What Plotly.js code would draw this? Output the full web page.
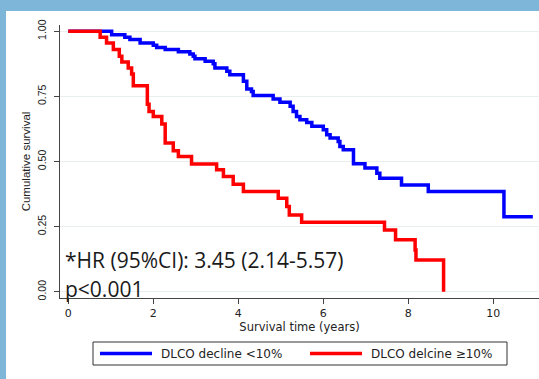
<!DOCTYPE html>
<html>
<head>
<meta charset="utf-8">
<script src="https://cdn.plot.ly/plotly-3.0.1.min.js"></script>
<style>
html,body{margin:0;padding:0;background:#7eb6d9;width:539px;height:379px;overflow:hidden;}
#chart{position:absolute;left:6px;top:11px;width:533px;height:368px;background:#fff;}
</style>
</head>
<body>
<div id="chart"></div>
<script>
// Series: Kaplan-Meier steps (time in years, cumulative survival)
var seriesNames = ["DLCO decline <10%", "DLCO delcine \u226510%"];
var blueT = [0, 1.02, 1.33, 1.45, 1.69, 2.00, 2.08, 2.28, 2.59, 2.86, 2.94, 2.98, 3.22, 3.41, 3.45, 3.73, 3.80,
             4.12, 4.20, 4.31, 4.35, 4.82, 4.98, 5.22, 5.29, 5.37, 5.45, 5.61, 5.73, 6.00, 6.08, 6.16, 6.35, 6.39,
             6.47, 6.71, 6.98, 7.26, 7.33, 7.84, 8.47, 10.25, 10.93];
var blueS = [1.000, 0.987, 0.977, 0.968, 0.955, 0.946, 0.938, 0.930, 0.921, 0.913, 0.904, 0.894, 0.885, 0.875, 0.859, 0.846, 0.833,
             0.808, 0.778, 0.769, 0.753, 0.740, 0.727, 0.712, 0.692, 0.673, 0.660, 0.650, 0.635, 0.622, 0.603, 0.590, 0.577, 0.558,
             0.545, 0.491, 0.475, 0.455, 0.436, 0.410, 0.385, 0.288, 0.288];
var redT = [0, 0.75, 0.90, 1.06, 1.20, 1.26, 1.41, 1.49, 1.53, 1.86, 1.90, 2.00, 2.20, 2.28, 2.47, 2.59, 2.90,
            3.49, 3.65, 3.88, 4.12, 4.94, 5.14, 5.20, 5.49, 7.44, 7.70, 8.16, 8.18, 8.83];
var redS = [1.000, 0.977, 0.955, 0.930, 0.904, 0.882, 0.859, 0.836, 0.791, 0.720, 0.692, 0.673, 0.644, 0.571, 0.541, 0.519, 0.490,
            0.468, 0.442, 0.413, 0.385, 0.359, 0.327, 0.295, 0.267, 0.237, 0.200, 0.160, 0.122, 0.000];
var xTicks = [0, 2, 4, 6, 8, 10];
var yTicks = [0, 0.25, 0.5, 0.75, 1];
var annText1 = "*HR (95%CI): 3.45 (2.14-5.57)";
var annText2 = "p<0.001";

var W = 533, H = 368, ML = 54, MR = 0, MT = 14, MB = 81;
var PW = W - ML - MR, PH = H - MT - MB;
// convert absolute page pixel to paper coordinates (div offset 6,11)
function pX(ax) { return (ax - 6 - ML) / PW; }
function pY(ay) { return 1 - (ay - 11 - MT) / PH; }

var blueC = "#0000ff", redC = "#ff0000";
var stataFont = "DejaVu Sans, Arial, sans-serif";

var traces = [
  {x: blueT, y: blueS, type: "scatter", mode: "lines", line: {shape: "hv", color: blueC, width: 3.5}, name: seriesNames[0], showlegend: false, hoverinfo: "skip"},
  {x: redT, y: redS, type: "scatter", mode: "lines", line: {shape: "hv", color: redC, width: 3.5}, name: seriesNames[1], showlegend: false, hoverinfo: "skip"}
];

var shapes = [
  {type: "rect", xref: "paper", yref: "paper", x0: pX(93), x1: pX(507), y0: pY(342), y1: pY(365), line: {color: "#333", width: 1}, fillcolor: "rgba(0,0,0,0)"},
  {type: "line", xref: "paper", yref: "paper", x0: pX(100), x1: pX(152), y0: pY(353.5), y1: pY(353.5), line: {color: blueC, width: 3.5}},
  {type: "line", xref: "paper", yref: "paper", x0: pX(310), x1: pX(362), y0: pY(353.5), y1: pY(353.5), line: {color: redC, width: 3.5}}
];

var annotations = [
  {xref: "paper", yref: "paper", x: pX(63), y: pY(260), xanchor: "left", yanchor: "middle", text: annText1, showarrow: false,
   font: {family: "Open Sans, sans-serif", size: 21, color: "#1a1a1a"}},
  {xref: "paper", yref: "paper", x: pX(63), y: pY(289), xanchor: "left", yanchor: "middle", text: annText2, showarrow: false,
   font: {family: "Open Sans, sans-serif", size: 21, color: "#1a1a1a"}},
  {xref: "paper", yref: "paper", x: pX(159), y: pY(353.5), xanchor: "left", yanchor: "middle", text: seriesNames[0], showarrow: false,
   font: {family: stataFont, size: 12, color: "#222"}},
  {xref: "paper", yref: "paper", x: pX(369), y: pY(353.5), xanchor: "left", yanchor: "middle", text: seriesNames[1], showarrow: false,
   font: {family: stataFont, size: 12, color: "#222"}}
];

var layout = {
  width: W, height: H,
  margin: {l: ML, r: MR, t: MT, b: MB, pad: 0},
  paper_bgcolor: "#ffffff", plot_bgcolor: "#ffffff",
  showlegend: false,
  xaxis: {
    range: [-0.195, 11.075], tickvals: xTicks, ticktext: xTicks.map(String),
    showgrid: false, zeroline: false, showline: true, linecolor: "#444", linewidth: 1,
    ticks: "outside", ticklen: 5, tickcolor: "#444", tickwidth: 1,
    tickfont: {family: stataFont, size: 11, color: "#222"},
    title: {text: "Survival time (years)", font: {family: stataFont, size: 11.5, color: "#222"}, standoff: 2},
    fixedrange: true
  },
  yaxis: {
    range: [-0.024, 1.024], tickvals: yTicks, tickformat: ".2f",
    showgrid: true, gridcolor: "#e9efef", gridwidth: 1, zeroline: false,
    showline: true, linecolor: "#444", linewidth: 1,
    ticks: "outside", ticklen: 5, tickcolor: "#444", tickwidth: 1,
    tickangle: -90, ticklabelstandoff: 4,
    tickfont: {family: "Liberation Sans, Arial, sans-serif", size: 10.5, color: "#222"},
    title: {text: "Cumulative survival", font: {family: "Liberation Sans, Arial, sans-serif", size: 11.5, color: "#222"}, standoff: 2},
    fixedrange: true
  },
  shapes: shapes,
  annotations: annotations
};

Plotly.newPlot("chart", traces, layout, {staticPlot: true, displayModeBar: false});
</script>
</body>
</html>
